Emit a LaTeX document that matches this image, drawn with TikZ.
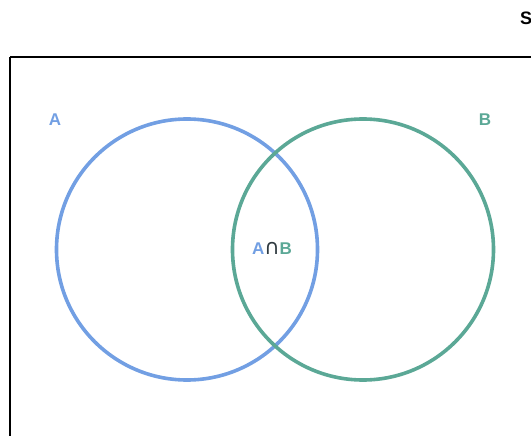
\documentclass[tikz,border=0pt]{standalone}
\usepackage{fontspec}
\setmainfont{Liberation Sans}
\newfontfamily\symfont{DejaVu Sans}
\definecolor{setA}{HTML}{729FE3}
\definecolor{setB}{HTML}{5BA896}
\definecolor{capc}{HTML}{2F3A40}
\begin{document}
\begin{tikzpicture}[x=1pt,y=-1pt,
  setcircle/.style={line width=3.6pt},
  lbl/.style={font=\fontsize{17}{17}\selectfont\bfseries, inner sep=0pt}]
\useasboundingbox (0,0) rectangle (531,436);
\clip (0,0) rectangle (531,436);
\draw[line width=1.3pt] (10,57) -- (620,57);
\draw[line width=1.3pt] (10,57) -- (10,520);
\node[lbl, anchor=base west, font=\fontsize{18}{18}\selectfont\bfseries] (S) at (520,25) {S};
\draw[setcircle, draw=setA] (187,249.5) circle[radius=130.5];
\draw[setcircle, draw=setB] (363,249.5) circle[radius=130.5];
\node[lbl, text=setA] (A) at (55,119.5) {A};
\node[lbl, text=setB] (B) at (485,119.5) {B};
\node[lbl] (AB) at (272,248) {\textcolor{setA}{A}\textcolor{capc}{\symfont\mdseries\fontsize{21}{21}\selectfont ∩}\textcolor{setB}{B}};
\end{tikzpicture}
\end{document}
